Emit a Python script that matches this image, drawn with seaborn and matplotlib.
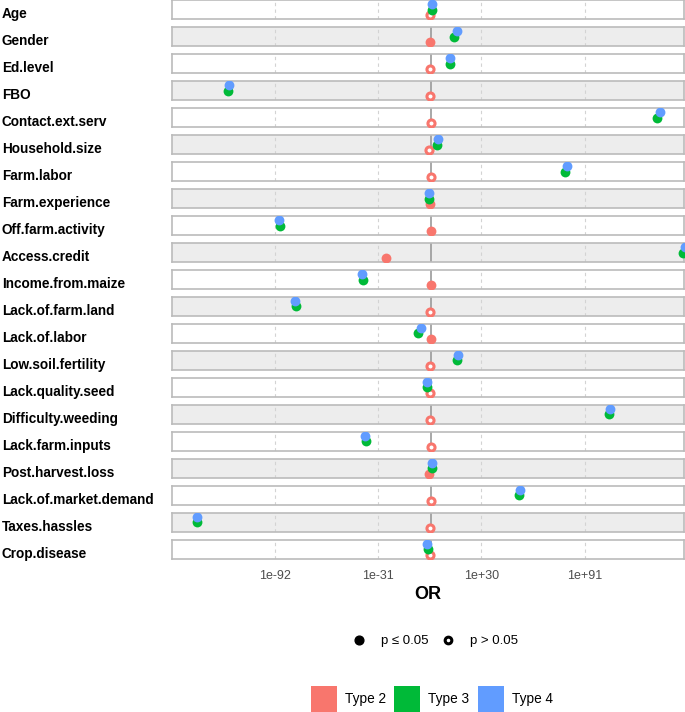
import numpy as np
import pandas as pd
import matplotlib.pyplot as plt
import matplotlib.transforms as mtransforms
from matplotlib.lines import Line2D
from matplotlib.patches import Patch
import seaborn as sns

plt.rcParams['font.family'] = ['Liberation Sans', 'DejaVu Sans']

# Переменные (сверху вниз)
variables = ["Age", "Gender", "Ed.level", "FBO", "Contact.ext.serv", "Household.size",
             "Farm.labor", "Farm.experience", "Off.farm.activity", "Access.credit",
             "Income.from.maize", "Lack.of.farm.land", "Lack.of.labor", "Low.soil.fertility",
             "Lack.quality.seed", "Difficulty.weeding", "Lack.farm.inputs", "Post.harvest.loss",
             "Lack.of.market.demand", "Taxes.hassles", "Crop.disease"]

types = ["Type 2", "Type 3", "Type 4"]

# log10(OR)
log_or_type2 = [-0.4, -0.4, -0.4, -0.2, 0.2, -0.8, 0.0, -0.2, 0.2, -26.5, 0.2,
                -0.4, 0.2, -0.4, -0.4, -0.2, 0.0, -0.8, 0.2, -0.4, -0.4]
log_or_type3 = [0.6, 14.0, 11.2, -119.8, 134.2, 3.9, 79.5, -1.0, -89.2, 149.5, -39.9,
                -79.7, -7.3, 15.4, -2.0, 105.6, -38.3, 0.6, 52.3, -138.6, -1.8]
log_or_type4 = [0.8, 15.4, 11.4, -119.2, 135.8, 4.1, 80.9, -1.2, -89.8, 150.5, -40.7,
                -80.3, -5.9, 16.0, -2.0, 106.2, -38.9, 1.0, 53.0, -138.4, -2.0]

# p <= 0.05 ?
sig_type2 = [False, True, False, False, False, False, False, True, True, True, True,
             False, True, False, False, False, False, True, False, False, False]
sig_type3 = [True] * 21
sig_type4 = [True] * 21

palette = {"Type 2": "#F8766D", "Type 3": "#00BA38", "Type 4": "#619CFF"}
ypos = {"Type 2": 1, "Type 3": 2, "Type 4": 3}

rows = []
for t, vals, sigs in [("Type 2", log_or_type2, sig_type2),
                      ("Type 3", log_or_type3, sig_type3),
                      ("Type 4", log_or_type4, sig_type4)]:
    for v, o, s in zip(variables, vals, sigs):
        rows.append({"variable": v, "type": t, "OR": 10.0 ** o, "sig": s, "pos": ypos[t]})
df = pd.DataFrame(rows)

fig, axes = plt.subplots(len(variables), 1, figsize=(6.85, 7.12), dpi=100, sharex=True)
fig.subplots_adjust(left=172/685, right=684/685, top=1 - 0.3/712,
                    bottom=1 - 558.7/712, hspace=8.3/18.7)

xticks = [1e-92, 1e-31, 1e30, 1e91]
xticklabels = ["1e-92", "1e-31", "1e+30", "1e+91"]

for i, (ax, var) in enumerate(zip(axes, variables)):
    ax.set_facecolor("white" if i % 2 == 0 else "#EDEDED")
    ax.set_xscale("log")
    ax.set_xlim(10**-153.2, 10**149.9)
    ax.set_ylim(0.4, 3.6)
    for xt in xticks:
        ax.axvline(xt, color="#D3D3D3", lw=0.8, ls=(0, (3, 3)), zorder=0)
    ax.axvline(1, color="#9A9A9A", lw=1.2, zorder=1)
    sub = df[df["variable"] == var]
    for t in types:
        pt = sub[sub["type"] == t]
        filled = pt[pt["sig"]]
        hollow = pt[~pt["sig"]]
        if len(filled):
            sns.scatterplot(data=filled, x="OR", y="pos", ax=ax, color=palette[t],
                            s=50, linewidth=0, zorder=3, legend=False)
        if len(hollow):
            sns.scatterplot(data=hollow, x="OR", y="pos", ax=ax, color="white",
                            edgecolor=palette[t], s=26, linewidth=2.2, zorder=3, legend=False)
    for sp in ax.spines.values():
        sp.set_color("#BBBBBB")
        sp.set_linewidth(1.2)
    ax.set_yticks([])
    ax.set_ylabel("")
    ax.set_xlabel("")
    ax.minorticks_off()
    ax.tick_params(axis="x", length=0, which="both")
    trans = mtransforms.blended_transform_factory(fig.transFigure, ax.transAxes)
    ax.text(2/685, 0.04, var, transform=trans, ha="left", va="baseline",
            fontsize=9.8, fontweight="bold", color="black")

axes[-1].set_xticks(xticks)
axes[-1].set_xticklabels(xticklabels)
axes[-1].tick_params(axis="x", labelsize=9, labelcolor="#4D4D4D", pad=8)
axes[-1].set_xlabel("OR", fontsize=13, fontweight="bold", labelpad=3)

# Легенда по значимости
shape_handles = [
    Line2D([], [], marker="o", ls="", color="black", markersize=6.3),
    Line2D([], [], marker="o", ls="", markerfacecolor="white", markeredgecolor="black",
           markeredgewidth=2.2, markersize=4.8),
]
fig.legend(shape_handles, ["p ≤ 0.05", "p > 0.05"], loc="center",
           bbox_to_anchor=(432/685, 1 - 641/712), ncol=2, frameon=False, fontsize=9.5,
           handlelength=2.0, handletextpad=0.67, columnspacing=0.44)

# Легенда по типам
color_handles = [Patch(facecolor=palette[t], edgecolor="none") for t in types]
fig.legend(color_handles, types, loc="center", bbox_to_anchor=(432/685, 1 - 699/712),
           ncol=3, frameon=False, fontsize=9.8, handlelength=1.91, handleheight=2.56,
           handletextpad=0.59, columnspacing=0.59, borderpad=0.2)

fig.savefig("out.png", dpi=100)
